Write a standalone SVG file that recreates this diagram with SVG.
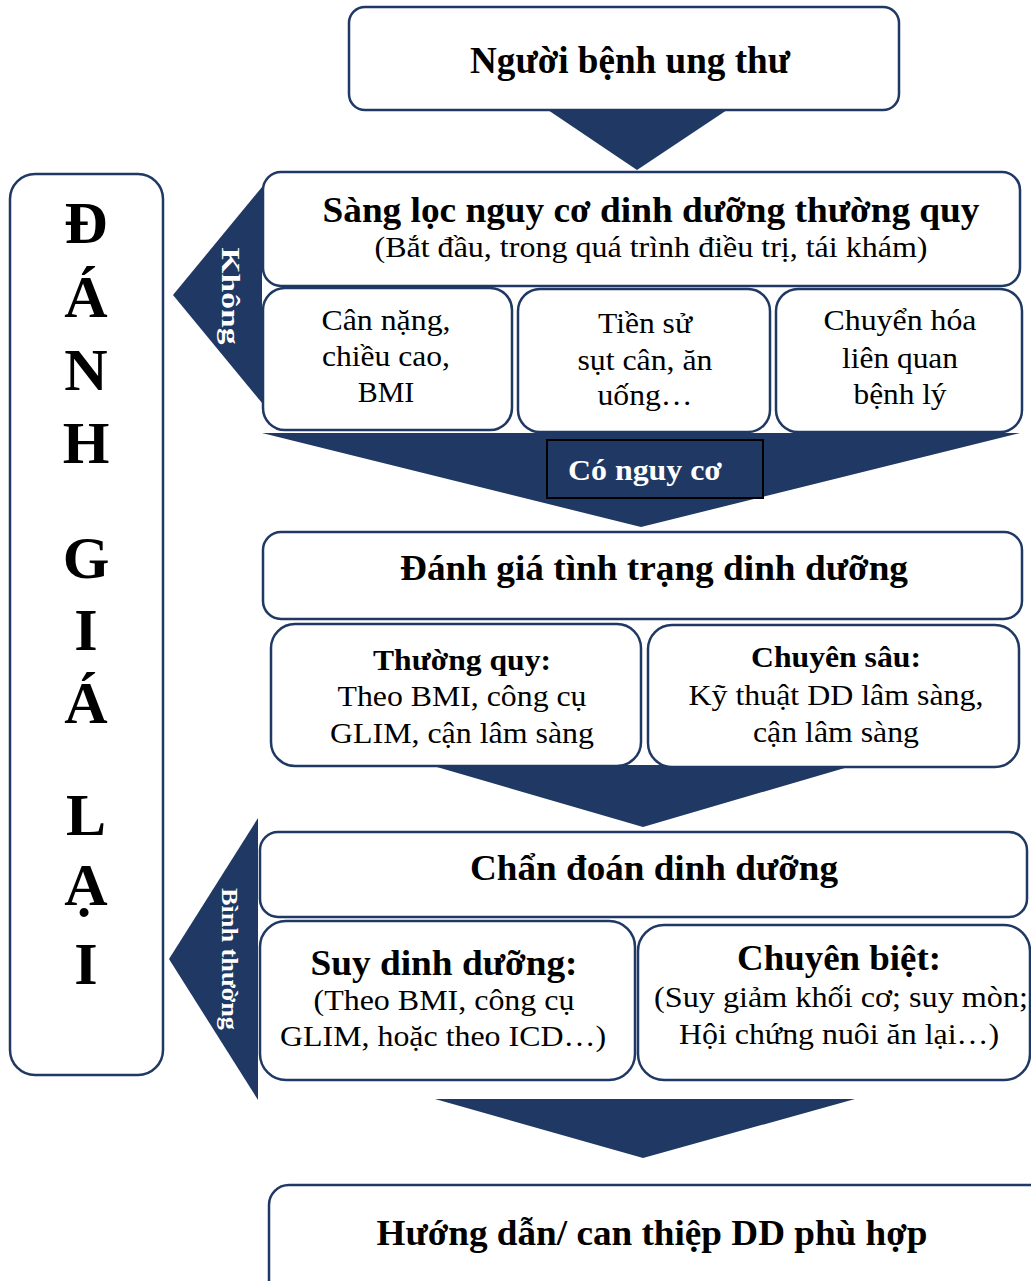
<svg xmlns="http://www.w3.org/2000/svg" width="1031" height="1281" viewBox="0 0 1031 1281">
<style>
.box{fill:#ffffff;stroke:#1F3864;stroke-width:2.5}
.arr{fill:#203864;stroke:none}
.t{font-family:"Liberation Serif","Times New Roman",serif;fill:#000;text-anchor:middle}
.b{font-weight:bold}
.w{fill:#ffffff}
.big{font-family:"Liberation Serif","Times New Roman",serif;font-weight:bold;font-size:60px;text-anchor:middle;fill:#000}
</style>
<rect width="1031" height="1281" fill="#ffffff"/>
<g id="connectors">
<polygon class="arr" points="545,108 730,108 637,170"/>
<polygon class="arr" points="262,187 262,403 173,295"/>
<polygon class="arr" points="262,433 1020,433 641,527"/>
<polygon class="arr" points="430,765 855,765 643,827"/>
<polygon class="arr" points="258,818 258,1100 169,959"/>
<polygon class="arr" points="435,1099 855,1099 643,1158"/>
<text class="t b w" font-size="26" transform="translate(222,296) rotate(90)" textLength="97" lengthAdjust="spacingAndGlyphs">Không</text>
<text class="t b w" font-size="24" transform="translate(222,959) rotate(90)" textLength="142" lengthAdjust="spacingAndGlyphs">Bình thường</text>
</g>
<g id="n-reassess">
<rect class="box" x="10" y="174" width="153" height="901" rx="25"/>
<text class="big" x="86" y="243">Đ</text>
<text class="big" x="86" y="317">Á</text>
<text class="big" x="86" y="390">N</text>
<text class="big" x="86" y="463">H</text>
<text class="big" x="86" y="578">G</text>
<text class="big" x="86" y="650">I</text>
<text class="big" x="86" y="723">Á</text>
<text class="big" x="86" y="835">L</text>
<text class="big" x="86" y="905">Ạ</text>
<text class="big" x="86" y="984">I</text>
</g>
<g id="n-patient">
<rect class="box" x="349" y="7" width="550" height="103" rx="16"/>
<text class="t b" x="630" y="73" font-size="37" textLength="320" lengthAdjust="spacingAndGlyphs">Người bệnh ung thư</text>
</g>
<g id="n-screening">
<rect class="box" x="263" y="172" width="757" height="114" rx="18"/>
<text class="t b" x="651" y="222" font-size="36" textLength="657" lengthAdjust="spacingAndGlyphs">Sàng lọc nguy cơ dinh dưỡng thường quy</text>
<text class="t" x="651" y="257" font-size="30" textLength="553" lengthAdjust="spacingAndGlyphs">(Bắt đầu, trong quá trình điều trị, tái khám)</text>
</g>
<g id="n-s1">
<rect class="box" x="263" y="288" width="249" height="142" rx="22"/>
<text class="t" x="386" y="330" font-size="30" textLength="129" lengthAdjust="spacingAndGlyphs">Cân nặng,</text>
<text class="t" x="386" y="366" font-size="30" textLength="128" lengthAdjust="spacingAndGlyphs">chiều cao,</text>
<text class="t" x="386" y="402" font-size="30">BMI</text>
</g>
<g id="n-s2">
<rect class="box" x="518" y="289" width="252" height="143" rx="22"/>
<text class="t" x="645" y="333" font-size="30" textLength="94" lengthAdjust="spacingAndGlyphs">Tiền sử</text>
<text class="t" x="645" y="370" font-size="30" textLength="135" lengthAdjust="spacingAndGlyphs">sụt cân, ăn</text>
<text class="t" x="645" y="405" font-size="30" textLength="95" lengthAdjust="spacingAndGlyphs">uống…</text>
</g>
<g id="n-s3">
<rect class="box" x="776" y="289" width="246" height="143" rx="22"/>
<text class="t" x="900" y="330" font-size="30" textLength="153" lengthAdjust="spacingAndGlyphs">Chuyển hóa</text>
<text class="t" x="900" y="368" font-size="30" textLength="116" lengthAdjust="spacingAndGlyphs">liên quan</text>
<text class="t" x="900" y="404" font-size="30" textLength="93" lengthAdjust="spacingAndGlyphs">bệnh lý</text>
</g>
<g id="n-risk">
<rect x="547" y="440" width="216" height="58" fill="#203864" stroke="#000" stroke-width="2"/>
<text class="t b w" x="645" y="480" font-size="30" textLength="154" lengthAdjust="spacingAndGlyphs">Có nguy cơ</text>
</g>
<g id="n-assess">
<rect class="box" x="263" y="532" width="759" height="87" rx="18"/>
<text class="t b" x="654" y="580" font-size="36" textLength="508" lengthAdjust="spacingAndGlyphs">Đánh giá tình trạng dinh dưỡng</text>
</g>
<g id="n-routine">
<rect class="box" x="271" y="624" width="370" height="142" rx="24"/>
<text class="t b" x="462" y="670" font-size="30" textLength="178" lengthAdjust="spacingAndGlyphs">Thường quy:</text>
<text class="t" x="462" y="706" font-size="30" textLength="249" lengthAdjust="spacingAndGlyphs">Theo BMI, công cụ</text>
<text class="t" x="462" y="743" font-size="30" textLength="264" lengthAdjust="spacingAndGlyphs">GLIM, cận lâm sàng</text>
</g>
<g id="n-deep">
<rect class="box" x="648" y="625" width="371" height="142" rx="24"/>
<text class="t b" x="836" y="667" font-size="30" textLength="170" lengthAdjust="spacingAndGlyphs">Chuyên sâu:</text>
<text class="t" x="836" y="705" font-size="30" textLength="295" lengthAdjust="spacingAndGlyphs">Kỹ thuật DD lâm sàng,</text>
<text class="t" x="836" y="742" font-size="30" textLength="166" lengthAdjust="spacingAndGlyphs">cận lâm sàng</text>
</g>
<g id="n-diagnosis">
<rect class="box" x="260" y="832" width="767" height="85" rx="18"/>
<text class="t b" x="654" y="880" font-size="36" textLength="368" lengthAdjust="spacingAndGlyphs">Chẩn đoán dinh dưỡng</text>
</g>
<g id="n-malnutrition">
<rect class="box" x="260" y="921" width="375" height="159" rx="26"/>
<text class="t b" x="444" y="975" font-size="36" textLength="267" lengthAdjust="spacingAndGlyphs">Suy dinh dưỡng:</text>
<text class="t" x="444" y="1010" font-size="30" textLength="261" lengthAdjust="spacingAndGlyphs">(Theo BMI, công cụ</text>
<text class="t" x="443" y="1046" font-size="30" textLength="326" lengthAdjust="spacingAndGlyphs">GLIM, hoặc theo ICD…)</text>
</g>
<g id="n-specific">
<rect class="box" x="638" y="925" width="392" height="155" rx="26"/>
<text class="t b" x="839" y="970" font-size="36" textLength="204" lengthAdjust="spacingAndGlyphs">Chuyên biệt:</text>
<text class="t" x="841" y="1007" font-size="30" textLength="374" lengthAdjust="spacingAndGlyphs">(Suy giảm khối cơ; suy mòn;</text>
<text class="t" x="839" y="1044" font-size="30" textLength="320" lengthAdjust="spacingAndGlyphs">Hội chứng nuôi ăn lại…)</text>
</g>
<g id="n-intervention">
<rect class="box" x="269" y="1185" width="790" height="130" rx="20"/>
<text class="t b" x="652" y="1245" font-size="36" textLength="551" lengthAdjust="spacingAndGlyphs">Hướng dẫn/ can thiệp DD phù hợp</text>
</g>
</svg>
